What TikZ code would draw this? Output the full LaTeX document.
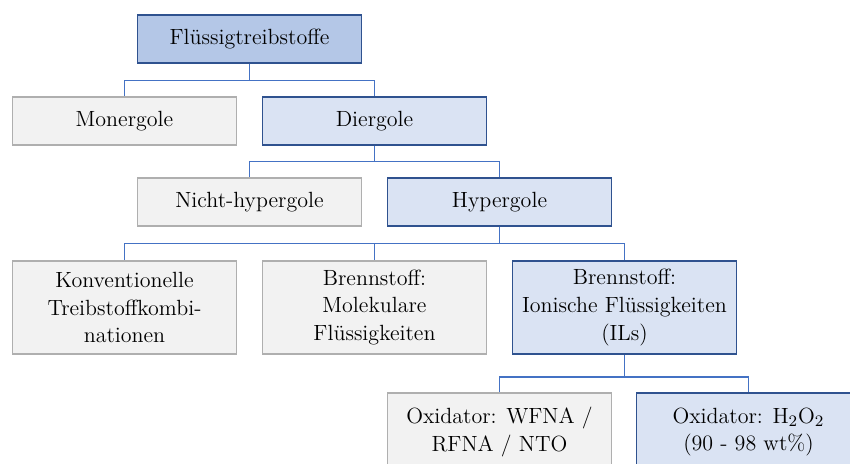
\documentclass[tikz,border=0pt]{standalone}
\usepackage{fontspec}
\definecolor{topfill}{HTML}{B4C7E7}
\definecolor{bluefill}{HTML}{DAE3F3}
\definecolor{blueline}{HTML}{2F528F}
\definecolor{grayfill}{HTML}{F2F2F2}
\definecolor{grayline}{HTML}{AFAFAF}
\definecolor{connline}{HTML}{4472C4}
\tikzset{
  box/.style={draw, rectangle, line width=0.75pt, minimum width=112pt, inner sep=0pt, align=center, font=\fontsize{11}{13.8}\selectfont},
  topbox/.style={box, fill=topfill, draw=blueline},
  bluebox/.style={box, fill=bluefill, draw=blueline},
  graybox/.style={box, fill=grayfill, draw=grayline},
  conn/.style={draw=connline, line width=0.75pt},
}
\begin{document}
\begin{tikzpicture}[x=0.5pt, y=-0.5pt]
\useasboundingbox (0,0) rectangle (850,464);
\clip (0,0) rectangle (850,464);
\node[topbox, minimum height=24pt] (top) at (249.5,39) {Flüssigtreibstoffe};
\node[graybox, minimum height=24pt] (mon) at (124.5,121) {Monergole};
\node[bluebox, minimum height=24pt] (dier) at (374.5,121) {Diergole};
\node[graybox, minimum height=24pt] (nicht) at (249.5,202) {Nicht-hypergole};
\node[bluebox, minimum height=24pt] (hyper) at (499.5,202) {Hypergole};
\node[graybox, minimum height=46.5pt] (konv) at (124.5,307.5) {Konventionelle\\Treibstoffkombi-\\nationen};
\node[graybox, minimum height=46.5pt] (mol) at (374.5,307.5) {Brennstoff:\\Molekulare\\Flüssigkeiten};
\node[bluebox, minimum height=46.5pt] (ils) at (624.5,307.5) {Brennstoff:\\Ionische Flüssigkeiten\\(ILs)};
\node[graybox, minimum height=39pt] (wfna) at (499.5,432) {Oxidator: WFNA /\\RFNA / NTO};
\node[bluebox, minimum height=39pt] (hoo) at (748.5,432) {Oxidator: H$_2$O$_2$\\(90 - 98 wt\%)};
\draw[conn] (top.south) -- ++(0,17) -| (mon.north);
\draw[conn] (top.south) -- ++(0,17) -| (dier.north);
\draw[conn] (dier.south) -- ++(0,16) -| (nicht.north);
\draw[conn] (dier.south) -- ++(0,16) -| (hyper.north);
\draw[conn] (hyper.south) -- ++(0,17) -| (konv.north);
\draw[conn] (hyper.south) -- ++(0,17) -| (mol.north);
\draw[conn] (hyper.south) -- ++(0,17) -| (ils.north);
\draw[conn] (ils.south) -- ++(0,22) -| (wfna.north);
\draw[conn] (ils.south) -- ++(0,22) -| (hoo.north);
\end{tikzpicture}
\end{document}
